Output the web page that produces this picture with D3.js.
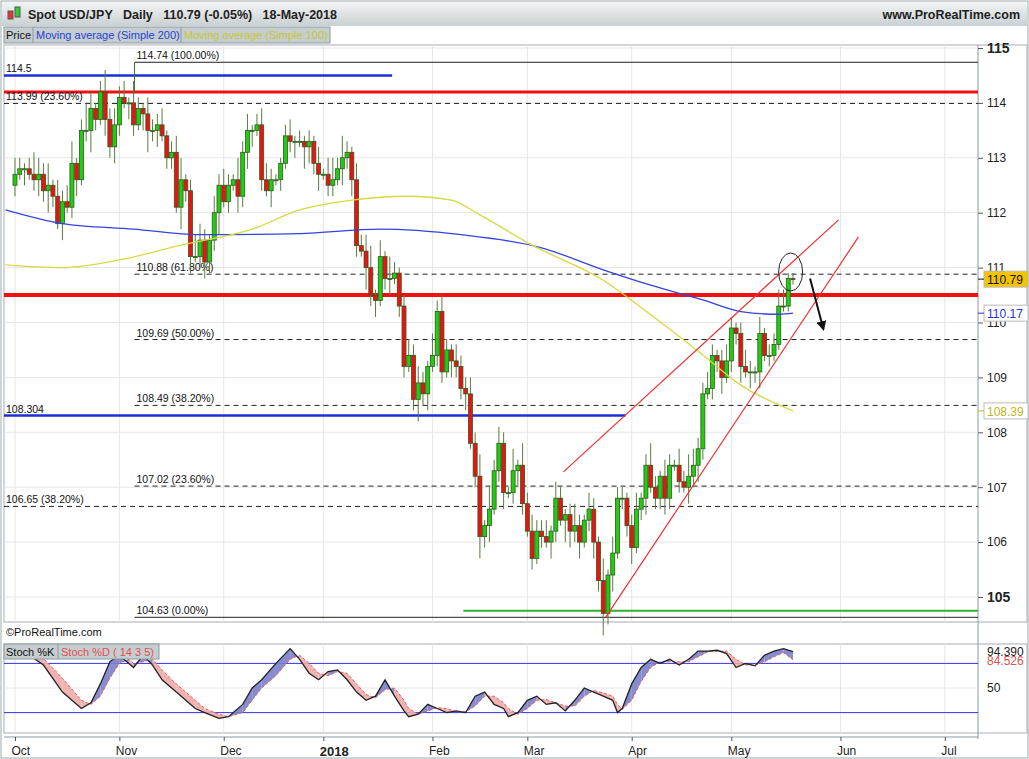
<!DOCTYPE html>
<html><head><meta charset="utf-8">
<script src="https://cdn.jsdelivr.net/npm/d3@7"></script>
<style>body{margin:0;background:#fff;font-family:Arial,"Liberation Sans",sans-serif}</style>
</head><body>
<script>
// daily closes, 2 Oct 2017 .. 18 May 2018 (weekdays)
const closes = [
112.7,112.8,112.8,112.7,112.6, 112.7,112.4,112.5,112.3,111.8, 112.2,112.1,112.9,112.6,113.5,
113.5,113.9,113.7,114.2,113.7, 113.2,113.6,114.1,114.0,114.0, 113.6,113.9,113.8,113.5,113.5,
113.6,113.4,113.0,113.1,112.1, 112.6,112.4,111.2,111.2,111.5, 111.1,111.5,112.0,112.5,112.2,
112.5,112.6,112.3,113.1,113.5, 113.5,113.6,112.6,112.4,112.6, 112.6,112.9,113.4,113.3,113.3,
113.3,113.2,113.3,112.9,112.7, 112.7,112.5,112.6,112.8,113.0, 113.1,112.6,111.4,111.3,111.0,
110.5,110.4,111.2,110.8,110.8, 110.9,110.3,109.2,109.4,108.6, 108.9,108.7,109.2,109.4,110.2,
109.1,109.5,109.3,109.2,108.8, 108.7,107.8,107.2,106.1,106.3, 106.6,107.3,107.8,106.9,106.9,
107.3,107.4,106.7,106.2,105.7, 106.2,106.1,106.0,106.2,106.8, 106.4,106.5,106.2,106.3,106.0,
106.4,106.6,106.0,105.3,104.7, 105.4,105.8,106.8,106.8,106.3, 105.9,106.6,106.8,107.4,107.0,
106.8,107.2,106.8,107.4,107.4, 107.1,107.0,107.2,107.4,107.7, 108.7,108.8,109.4,109.3,109.0,
109.3,109.9,109.8,109.2,109.1, 109.1,109.1,109.8,109.4,109.4, 109.6,110.3,110.3,110.8,110.79];
const firstOpen = 112.5;
// wick lengths (tenths of a yen) above body / below body
const wickUp = "3212432413234125312423231421322312341243213232142312332112312121313424213234131421232321423213223241423214142322313212421321413221231242132132432232123212321312233";
const wickDn = "2131232421312312421323213213423122142312322412132331213121231432312213232142312312212423122132231242312312321212132143231232423122312312232121323212231223132312";

const monthTicks = [[0,"Oct"],[22,"Nov"],[44,"Dec"],[65,"2018"],[88,"Feb"],[108,"Mar"],[130,"Apr"],[151,"May"],[174,"Jun"],[196,"Jul"]];
const priceTicks = [105,106,107,108,109,110,111,112,113,114,115];

// moving averages: [bar index, value]
const sma200 = [[-2,112.05],[10,111.8],[25,111.7],[39,111.6],[60,111.62],[77,111.7],[94,111.6],[111,111.36],[124,110.96],[134,110.68],[145,110.41],[153,110.2],[161,110.15],[164,110.17]];
const sma100 = [[-2,111.05],[10,111.0],[22,111.14],[35,111.41],[50,111.7],[60,112.05],[71,112.23],[83,112.3],[92,112.23],[98,111.96],[109,111.41],[124,110.77],[134,110.14],[145,109.41],[153,108.86],[164,108.39]];

// stochastic %K and %D: [bar index, value]
const stochK = [[0,88],[3,90],[6,78],[10,45],[14,25],[16,32],[18,55],[20,82],[22,90],[24,80],[25,75],[27,90],[29,78],[31,60],[34,45],[38,25],[40,20],[43,13],[45,15],[48,30],[50,50],[52,60],[55,80],[58,98],[60,85],[62,68],[64,60],[66,70],[68,72],[70,60],[72,45],[74,35],[76,40],[78,60],[80,40],[82,22],[83,15],[85,18],[87,30],[89,25],[91,20],[93,22],[95,20],[97,40],[99,45],[101,30],[103,25],[104,15],[106,20],[108,35],[110,40],[112,30],[114,32],[116,22],[118,35],[120,50],[122,45],[124,40],[126,35],[127,20],[128,25],[130,55],[132,75],[134,85],[136,80],[138,85],[140,78],[142,85],[144,95],[146,95],[148,96],[150,92],[152,75],[154,80],[156,77],[158,90],[160,95],[162,98],[164,94.4]];
const stochD = [[0,90],[3,88],[6,86],[10,62],[14,35],[16,30],[18,40],[20,62],[22,80],[24,85],[25,80],[27,82],[29,85],[31,72],[34,55],[38,35],[40,25],[43,18],[45,15],[48,20],[50,35],[52,50],[55,65],[58,85],[60,90],[62,80],[64,68],[66,65],[68,70],[70,68],[72,55],[74,42],[76,38],[78,48],[80,50],[82,35],[83,25],[85,18],[87,22],[89,26],[91,25],[93,21],[95,21],[97,28],[99,40],[101,40],[103,32],[104,25],[106,18],[108,25],[110,35],[112,36],[114,32],[116,28],[118,28],[120,40],[122,47],[124,44],[126,40],[127,30],[128,24],[130,35],[132,58],[134,75],[136,82],[138,82],[140,82],[142,82],[144,88],[146,94],[148,95],[150,95],[152,85],[154,78],[156,78],[158,82],[160,88],[162,93],[164,84.5]];

const W = 1029, H = 759;
const plotL = 4, plotR = 978, mainT = 45, mainB = 622, stT = 644, stB = 733;
const svg = d3.select("body").append("svg").attr("width", W).attr("height", H);

const x = d3.scaleLinear().domain([0, 164]).range([15, 793]);
const y = d3.scaleLinear().domain([105, 115]).range([597, 48]);
const ys = d3.scaleLinear().domain([0, 100]).range([729, 647]);

// frame
svg.append("rect").attr("x", 1).attr("y", 1).attr("width", W - 2).attr("height", H - 2).attr("fill", "#fff").attr("stroke", "#9aa");
const hg = svg.append("defs").append("linearGradient").attr("id", "hg").attr("x2", 0).attr("y2", 1);
hg.append("stop").attr("offset", 0).attr("stop-color", "#f2f4f4");
hg.append("stop").attr("offset", 1).attr("stop-color", "#c9d0d2");
svg.append("rect").attr("x", 2).attr("y", 2).attr("width", W - 4).attr("height", 24).attr("fill", "url(#hg)");
// small candle icon
svg.append("rect").attr("x", 8).attr("y", 11).attr("width", 5).attr("height", 8).attr("fill", "#e33").attr("stroke", "#555");
svg.append("rect").attr("x", 15).attr("y", 7).attr("width", 5).attr("height", 10).attr("fill", "#3c3").attr("stroke", "#555");
svg.append("text").attr("x", 28).attr("y", 19).attr("font-size", 12.5).attr("font-weight", "bold").attr("fill", "#222")
  .text("Spot USD/JPY   Daily   110.79 (-0.05%)   18-May-2018").attr("xml:space", "preserve");
svg.append("text").attr("x", 1020).attr("y", 19).attr("text-anchor", "end").attr("font-size", 12.5).attr("font-weight", "bold").attr("fill", "#222").text("www.ProRealTime.com");

// legend row
svg.append("rect").attr("x", 4).attr("y", 27).attr("width", 326).attr("height", 16).attr("fill", "#c5cdd0").attr("stroke", "#8a9a9f");
svg.append("line").attr("x1", 33).attr("x2", 33).attr("y1", 27).attr("y2", 43).attr("stroke", "#8a9a9f");
svg.append("line").attr("x1", 181).attr("x2", 181).attr("y1", 27).attr("y2", 43).attr("stroke", "#8a9a9f");
svg.append("text").attr("x", 6).attr("y", 39).attr("font-size", 11).attr("fill", "#111").text("Price");
svg.append("text").attr("x", 36).attr("y", 39).attr("font-size", 11).attr("fill", "#1f3fd8").text("Moving average (Simple 200)");
svg.append("text").attr("x", 184).attr("y", 39).attr("font-size", 11).attr("fill", "#c8c830").text("Moving average (Simple 100)");

// panels
svg.append("rect").attr("x", plotL).attr("y", mainT).attr("width", W - 6).attr("height", mainB - mainT).attr("fill", "none").attr("stroke", "#aab");
svg.append("rect").attr("x", plotL).attr("y", stT).attr("width", W - 6).attr("height", stB - stT).attr("fill", "none").attr("stroke", "#aab");
svg.append("line").attr("x1", plotR).attr("x2", plotR).attr("y1", mainT).attr("y2", stB + 6).attr("stroke", "#8a9a9f");
svg.append("line").attr("x1", plotL).attr("x2", plotR).attr("y1", stB + 4).attr("y2", stB + 4).attr("stroke", "#8a9a9f");

// grid
const grid = svg.append("g").attr("stroke", "#e6e6e6");
priceTicks.forEach(p => grid.append("line").attr("x1", plotL).attr("x2", plotR).attr("y1", y(p)).attr("y2", y(p)));
monthTicks.forEach(([i]) => {
  grid.append("line").attr("x1", x(i)).attr("x2", x(i)).attr("y1", mainT).attr("y2", mainB);
  grid.append("line").attr("x1", x(i)).attr("x2", x(i)).attr("y1", stT).attr("y2", stB);
});
[50].forEach(v => grid.append("line").attr("x1", plotL).attr("x2", plotR).attr("y1", ys(v)).attr("y2", ys(v)));

// right price axis
const ax = svg.append("g").attr("transform", `translate(${plotR},0)`)
  .call(d3.axisRight(y).tickValues(priceTicks).tickSize(5).tickFormat(d3.format("d")));
ax.select(".domain").remove();
ax.selectAll("line").attr("stroke", "#555");
ax.selectAll("text").attr("font-size", d => (d === 105 || d === 115) ? 14 : 12)
  .attr("font-weight", d => (d === 105 || d === 115) ? "bold" : "normal").attr("fill", "#222").attr("x", 9);

// x axis
const xa = svg.append("g").attr("transform", `translate(0,${stB + 4})`)
  .call(d3.axisBottom(x).tickValues(monthTicks.map(d => d[0])).tickSize(4)
    .tickFormat(d => monthTicks.find(m => m[0] === d)[1]));
xa.select(".domain").remove();
xa.selectAll("line").attr("stroke", "#555");
xa.selectAll("text").attr("font-size", d => d === 65 ? 13 : 12).attr("font-weight", d => d === 65 ? "bold" : "normal")
  .attr("fill", "#222").attr("text-anchor", "start").attr("x", -4).attr("dy", "0.9em");

// horizontal levels: [price, startIdx, colour, width, dashed, label]
const hLevels = [
  [114.74, 25.2, "#222", 1, false, "114.74 (100.00%)"],
  [114.5, -3, "#1a2fd6", 2.5, false, "114.5"],
  [114.2, -3, "#f01010", 3, false, null],
  [113.99, -3, "#222", 1, true, "113.99 (23.60%)"],
  [110.88, 25.2, "#222", 1, true, "110.88 (61.80%)"],
  [110.5, -3, "#f01010", 4, false, null],
  [109.69, 25.2, "#222", 1, true, "109.69 (50.00%)"],
  [108.49, 25.2, "#222", 1, true, "108.49 (38.20%)"],
  [108.304, -3, "#1a2fd6", 2.5, false, "108.304"],
  [107.02, 25.2, "#222", 1, true, "107.02 (23.60%)"],
  [106.65, -3, "#222", 1, true, "106.65 (38.20%)"],
  [104.75, 94.5, "#30b030", 2, false, null],
  [104.63, 25.2, "#222", 1, false, "104.63 (0.00%)"]];
const hEnd = {"114.5": 79.5, "108.304": 128.7};
hLevels.forEach(([p, s, c, w, dash, lab]) => {
  const x1 = Math.max(plotL, x(s)), x2 = hEnd[p] ? x(hEnd[p]) : plotR;
  svg.append("line").attr("x1", x1).attr("x2", x2).attr("y1", y(p)).attr("y2", y(p))
    .attr("stroke", c).attr("stroke-width", w).attr("stroke-dasharray", dash ? "5,4" : null);
  if (lab) svg.append("text").attr("x", x1 + 2).attr("y", y(p) - 3).attr("font-size", 10.5).attr("fill", "#111").text(lab);
});
svg.append("line").attr("x1", x(25.2)).attr("x2", x(25.2)).attr("y1", y(114.74)).attr("y2", y(114.2)).attr("stroke", "#2a7a20");

// candles
const candles = closes.map((c, i) => {
  const o = i === 0 ? firstOpen : closes[i - 1];
  return {i, o, c, h: Math.max(o, c) + (+wickUp[i] || 1) / 10, l: Math.min(o, c) - (+wickDn[i] || 1) / 10};
});
const cg = svg.append("g");
cg.selectAll("line").data(candles).join("line")
  .attr("x1", d => x(d.i)).attr("x2", d => x(d.i)).attr("y1", d => y(d.h)).attr("y2", d => y(d.l)).attr("stroke", "#5a7a40");
cg.selectAll("rect").data(candles).join("rect")
  .attr("x", d => x(d.i) - 2).attr("width", 4)
  .attr("y", d => y(Math.max(d.o, d.c))).attr("height", d => Math.max(1, Math.abs(y(d.o) - y(d.c))))
  .attr("fill", d => d.c >= d.o ? "#22cc11" : "#ee1111").attr("stroke", "#2d5a1e").attr("stroke-width", 0.8);

// moving averages
const ln = d3.line().x(d => Math.max(plotL + 1, x(d[0]))).y(d => y(d[1])).curve(d3.curveMonotoneX);
svg.append("path").attr("d", ln(sma200)).attr("fill", "none").attr("stroke", "#3344dd").attr("stroke-width", 1.3);
svg.append("path").attr("d", ln(sma100)).attr("fill", "none").attr("stroke", "#d8d840").attr("stroke-width", 1.3);

// channel, ellipse, arrow annotations (bar index, price)
const chan = [[[115.6, 107.28], [173.6, 111.87]], [[124.5, 104.63], [177.8, 111.56]]];
chan.forEach(seg => svg.append("line").attr("x1", x(seg[0][0])).attr("y1", y(seg[0][1]))
  .attr("x2", x(seg[1][0])).attr("y2", y(seg[1][1])).attr("stroke", "#f03030").attr("stroke-width", 1.2));
svg.append("ellipse").attr("cx", x(163.5)).attr("cy", y(110.92)).attr("rx", 12).attr("ry", 19).attr("fill", "none").attr("stroke", "#222");
svg.append("defs").append("marker").attr("id", "ah").attr("viewBox", "0 0 10 10").attr("refX", 8).attr("refY", 5)
  .attr("markerWidth", 5).attr("markerHeight", 5).attr("orient", "auto")
  .append("path").attr("d", "M0,0L10,5L0,10z").attr("fill", "#111");
svg.append("line").attr("x1", x(167.6)).attr("y1", y(110.8)).attr("x2", x(170.4)).attr("y2", y(109.88))
  .attr("stroke", "#111").attr("stroke-width", 2).attr("marker-end", "url(#ah)");

// right axis value tags
const tag = (p, txt, fill, col) => {
  svg.append("rect").attr("x", plotR + 6).attr("y", y(p) - 8).attr("width", 44).attr("height", 16).attr("fill", fill).attr("stroke", "#bbb");
  svg.append("text").attr("x", plotR + 9).attr("y", y(p) + 5).attr("font-size", 12).attr("fill", col).text(txt);
  svg.append("line").attr("x1", plotR).attr("x2", plotR + 6).attr("y1", y(p)).attr("y2", y(p)).attr("stroke", col);
};
tag(110.79, "110.79", "#f5c400", "#111");
tag(110.17, "110.17", "#fff", "#2233dd");
tag(108.39, "108.39", "#fff", "#b8b820");

svg.append("text").attr("x", 6).attr("y", 636).attr("font-size", 11).attr("fill", "#111").text("©ProRealTime.com");

// stochastic panel
[80, 20].forEach(v => svg.append("line").attr("x1", plotL).attr("x2", plotR).attr("y1", ys(v)).attr("y2", ys(v)).attr("stroke", "#3333ee"));
const sg = svg.append("g");
for (let j = 0; j < stochK.length - 1; j++) {
  const k0 = stochK[j], k1 = stochK[j + 1], d0 = stochD[j], d1 = stochD[j + 1];
  const up = (k0[1] + k1[1]) >= (d0[1] + d1[1]);
  sg.append("path").attr("d", `M${x(k0[0])},${ys(k0[1])}L${x(k1[0])},${ys(k1[1])}L${x(d1[0])},${ys(d1[1])}L${x(d0[0])},${ys(d0[1])}Z`)
    .attr("fill", up ? "#7a80cc" : "#f0aaaa").attr("opacity", 0.9);
}
const ls = d3.line().x(d => x(d[0])).y(d => ys(d[1]));
svg.append("path").attr("d", ls(stochD)).attr("fill", "none").attr("stroke", "#e06060").attr("stroke-dasharray", "3,2");
svg.append("path").attr("d", ls(stochK)).attr("fill", "none").attr("stroke", "#222").attr("stroke-width", 1.3);
svg.append("rect").attr("x", 4).attr("y", stT).attr("width", 155).attr("height", 15).attr("fill", "#c5cdd0").attr("stroke", "#8a9a9f");
svg.append("line").attr("x1", 58).attr("x2", 58).attr("y1", stT).attr("y2", stT + 15).attr("stroke", "#8a9a9f");
svg.append("text").attr("x", 6).attr("y", stT + 12).attr("font-size", 11).attr("fill", "#111").text("Stoch %K");
svg.append("text").attr("x", 61).attr("y", stT + 12).attr("font-size", 11).attr("fill", "#e05050").text("Stoch %D ( 14 3 5)");
svg.append("text").attr("x", plotR + 9).attr("y", ys(50) + 4).attr("font-size", 12).attr("fill", "#222").text("50");
svg.append("text").attr("x", plotR + 9).attr("y", ys(94.39) + 4).attr("font-size", 12).attr("fill", "#222").text("94.390");
svg.append("text").attr("x", plotR + 9).attr("y", ys(84.53) + 5).attr("font-size", 12).attr("fill", "#e05050").text("84.526");
</script>
</body></html>
